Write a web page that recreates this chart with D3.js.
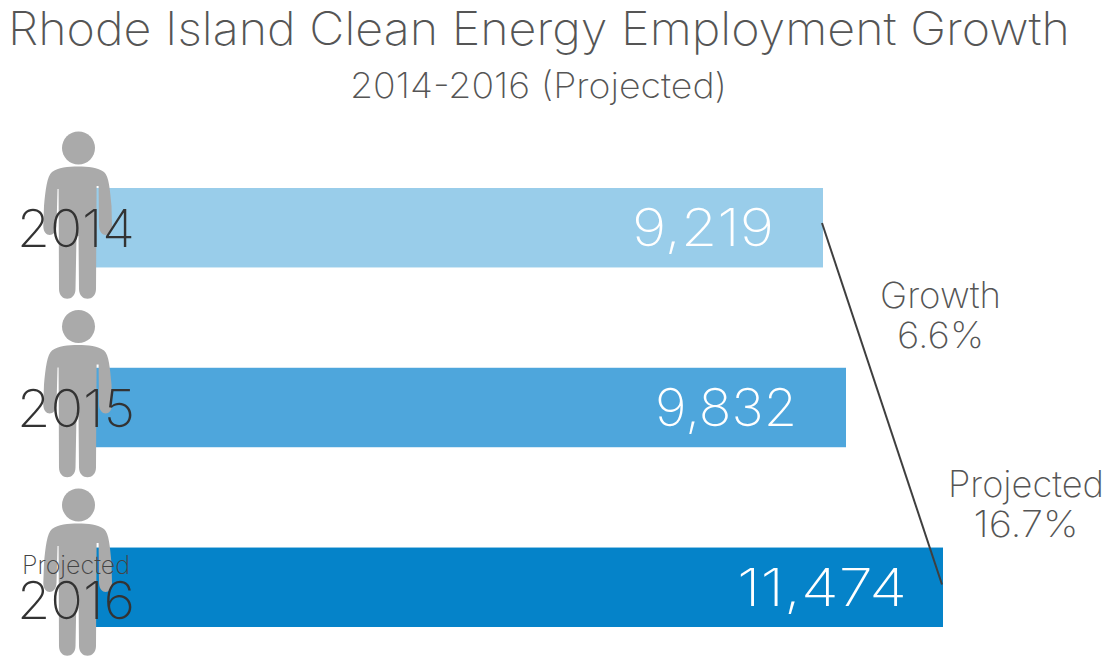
<!DOCTYPE html>
<html><head><meta charset="utf-8">
<script src="https://cdn.jsdelivr.net/npm/d3@7"></script>
<style>
html,body{margin:0;padding:0;background:#fff;overflow:hidden}
text{font-family:Inter,Roboto,sans-serif;font-weight:200}
</style></head><body>
<svg id="c" width="1112" height="660"></svg>
<script>
const years = ["2014","2015","2016"];
const employment = [9219,9832,11474];
const barColors = ["#99cdea","#4ea6dc","#0583c9"];
const titleText = "Rhode Island Clean Energy Employment Growth";
const subtitleText = "2014-2016 (Projected)";
const growthLabels = ["Growth","6.6%"];
const projectedLabels = ["Projected","16.7%"];

const svg = d3.select("#c");
// The source bars are not drawn to a linear axis; this scale follows the picture's mapping.
const x = d3.scaleLinear().domain([0,9219,9832,11474]).range([96,823,846,943]);
const y = d3.scaleBand().domain(years).range([188,627]).paddingInner(0.558);
const fmt = d3.format(",");

svg.append("text").attr("x",8).attr("y",45).attr("font-size",46).attr("fill","#555").attr("textLength",1062).attr("lengthAdjust","spacingAndGlyphs").text(titleText);
svg.append("text").attr("x",538.5).attr("y",98).attr("text-anchor","middle").attr("font-size",35).attr("fill","#555").attr("textLength",377).attr("lengthAdjust","spacingAndGlyphs").text(subtitleText);

svg.selectAll("rect.bar").data(years).join("rect").attr("class","bar")
 .attr("x",x(0)).attr("y",d=>y(d)).attr("height",y.bandwidth())
 .attr("width",(d,i)=>x(employment[i])-x(0)).attr("fill",(d,i)=>barColors[i]);

const body = "M78,166.5 C68,166.5 58,167.5 52,172 C47,176 45.5,190 44,206 L43.3,226 C43.3,238 56,238 56.5,226 L57.5,189 L58.6,189 L59,289 C59,302 75.5,302 75.5,289 L76.5,236 L78.5,236 L79,289 C79,302 96,302 96,289 L96.6,186 L98.6,186 L99,226 C99.5,238 112,238 112,226 L111.5,206 C110,190 109,176 104,172 C98,167.5 88,166.5 78,166.5 Z";
const iconStep = 178.5;
const persons = svg.selectAll("g.person").data(years).join("g").attr("class","person")
 .attr("transform",(d,i)=>`translate(0,${i*iconStep})`).attr("fill","#aaaaaa");
persons.append("circle").attr("cx",78.5).attr("cy",148).attr("r",16.5);
persons.append("path").attr("d",body);

const yearBase = [247,427,619];
svg.selectAll("text.year").data(years).join("text").attr("class","year")
 .attr("x",17).attr("y",(d,i)=>yearBase[i]).attr("font-size",52).attr("fill","#333").attr("textLength",118).attr("lengthAdjust","spacingAndGlyphs").text(d=>d);
svg.append("text").attr("x",22).attr("y",574).attr("font-size",25).attr("fill","#444").attr("textLength",108).attr("lengthAdjust","spacingAndGlyphs").text("Projected");

const valRight = [774,797,907];
const valWidth = [142,142,170];
svg.selectAll("text.val").data(years).join("text").attr("class","val")
 .attr("x",(d,i)=>valRight[i]-valWidth[i]).attr("y",d=>y(d)+y.bandwidth()/2+18.5)
 .attr("font-size",52).attr("fill","#fff")
 .attr("textLength",(d,i)=>valWidth[i]).attr("lengthAdjust","spacingAndGlyphs")
 .text((d,i)=>fmt(employment[i]));

svg.append("line").attr("x1",x(9219)-1).attr("y1",y("2014")+35).attr("x2",x(11474)-1).attr("y2",y("2016")+37)
 .attr("stroke","#3f3f3f").attr("stroke-width",2);

function block(lines,cx,y0,widths){lines.forEach((t,i)=>svg.append("text").attr("x",cx-widths[i]/2).attr("y",y0+i*40).attr("font-size",36).attr("fill","#555").attr("textLength",widths[i]).attr("lengthAdjust","spacingAndGlyphs").text(t));}
block(growthLabels,940.5,308,[121,87]);
block(projectedLabels,1026,497,[156,105]);
</script></body></html>
